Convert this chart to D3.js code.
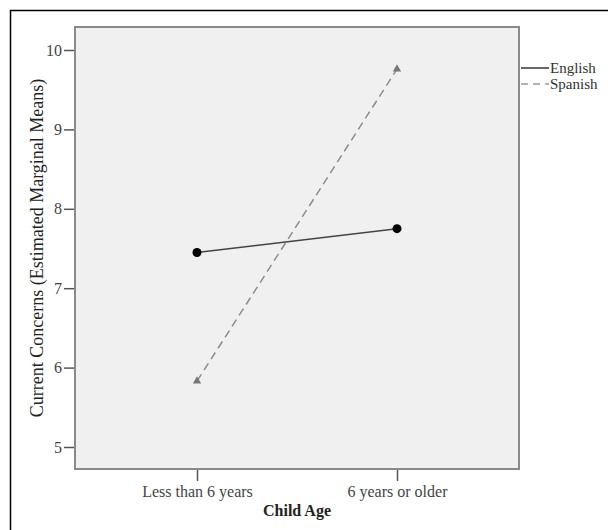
<!DOCTYPE html>
<meta charset="utf-8">
<title>Estimated Marginal Means</title>
<style>
    body { margin: 0; background: #fff; font-family: "Liberation Serif", "Times New Roman", serif; }
</style>
<body>
<script src="https://cdn.jsdelivr.net/npm/d3@7"></script>
<script>

    var categories = ["Less than 6 years", "6 years or older"];
    var english = [7.45, 7.75];
    var spanish = [5.83, 9.76];
    var yTicks = [5, 6, 7, 8, 9, 10];

    var width = 608, height = 530;
    var plot = { left: 75, top: 27, right: 519, bottom: 469 };

    var svg = d3.select("body").append("svg")
        .attr("width", width)
        .attr("height", height);

    // outer frame (only top and left visible)
    svg.append("path")
        .attr("d", "M10.5," + height + "V10.5H" + width)
        .attr("fill", "none")
        .attr("stroke", "#000")
        .attr("stroke-width", 1.5);

    var x = d3.scalePoint()
        .domain(categories)
        .range([plot.left, plot.right])
        .padding(0.61);

    var y = d3.scaleLinear()
        .domain([5, 10])
        .range([447, 50]);

    svg.append("rect")
        .attr("x", plot.left)
        .attr("y", plot.top)
        .attr("width", plot.right - plot.left)
        .attr("height", plot.bottom - plot.top)
        .attr("fill", "#f0f0f0")
        .attr("stroke", "#8a8a8a")
        .attr("stroke-width", 2);

    var yAxis = svg.append("g")
        .attr("transform", "translate(" + (plot.left - 1) + ",0)")
        .call(d3.axisLeft(y).tickValues(yTicks).tickSize(10).tickPadding(2).tickFormat(d3.format("d")));
    var xAxis = svg.append("g")
        .attr("transform", "translate(0," + (plot.bottom + 1) + ")")
        .call(d3.axisBottom(x).tickSize(11).tickPadding(5));

    [yAxis, xAxis].forEach(function (g) {
        g.attr("font-size", null).attr("font-family", null);
        g.select(".domain").remove();
        g.selectAll(".tick line").attr("stroke", "#555").attr("stroke-width", 1.5);
        g.selectAll(".tick text")
            .attr("fill", "#444")
            .style("font-family", "Liberation Serif")
            .style("font-size", "16px");
    });

    svg.append("text")
        .attr("x", (plot.left + plot.right) / 2)
        .attr("y", 516)
        .attr("text-anchor", "middle")
        .style("font-size", "16px")
        .style("font-weight", "bold")
        .attr("fill", "#222")
        .text("Child Age");

    svg.append("text")
        .attr("transform", "translate(43," + ((plot.top + plot.bottom) / 2) + ") rotate(-90)")
        .attr("text-anchor", "middle")
        .style("font-size", "18px")
        .attr("fill", "#222")
        .text("Current Concerns (Estimated Marginal Means)");

    var line = d3.line()
        .x(function (d, i) { return x(categories[i]); })
        .y(function (d) { return y(d); });

    svg.append("path")
        .datum(spanish)
        .attr("d", line)
        .attr("fill", "none")
        .attr("stroke", "#8c8c8c")
        .attr("stroke-width", 1.5)
        .attr("stroke-dasharray", "8,5");

    svg.append("path")
        .datum(english)
        .attr("d", line)
        .attr("fill", "none")
        .attr("stroke", "#444")
        .attr("stroke-width", 1.5);

    svg.selectAll(".eng")
        .data(english)
        .enter().append("circle")
        .attr("cx", function (d, i) { return x(categories[i]); })
        .attr("cy", function (d) { return y(d); })
        .attr("r", 4.5)
        .attr("fill", "#000");

    svg.selectAll(".spa")
        .data(spanish)
        .enter().append("path")
        .attr("transform", function (d, i) { return "translate(" + x(categories[i]) + "," + y(d) + ")"; })
        .attr("d", d3.symbol().type(d3.symbolTriangle).size(30))
        .attr("fill", "#777");

    // legend
    var legend = svg.append("g").attr("transform", "translate(521,0)");
    var items = [
        { name: "English", dash: null, color: "#333", y: 68 },
        { name: "Spanish", dash: "7,5", color: "#999", y: 84 }
    ];
    items.forEach(function (it) {
        legend.append("line")
            .attr("x1", 0).attr("x2", 28)
            .attr("y1", it.y).attr("y2", it.y)
            .attr("stroke", it.color)
            .attr("stroke-width", 1.5)
            .attr("stroke-dasharray", it.dash);
        legend.append("text")
            .attr("x", 29)
            .attr("y", it.y)
            .attr("dy", "0.35em")
            .attr("fill", "#333")
            .style("font-size", "15px")
            .text(it.name);
    });

</script>
</body>
